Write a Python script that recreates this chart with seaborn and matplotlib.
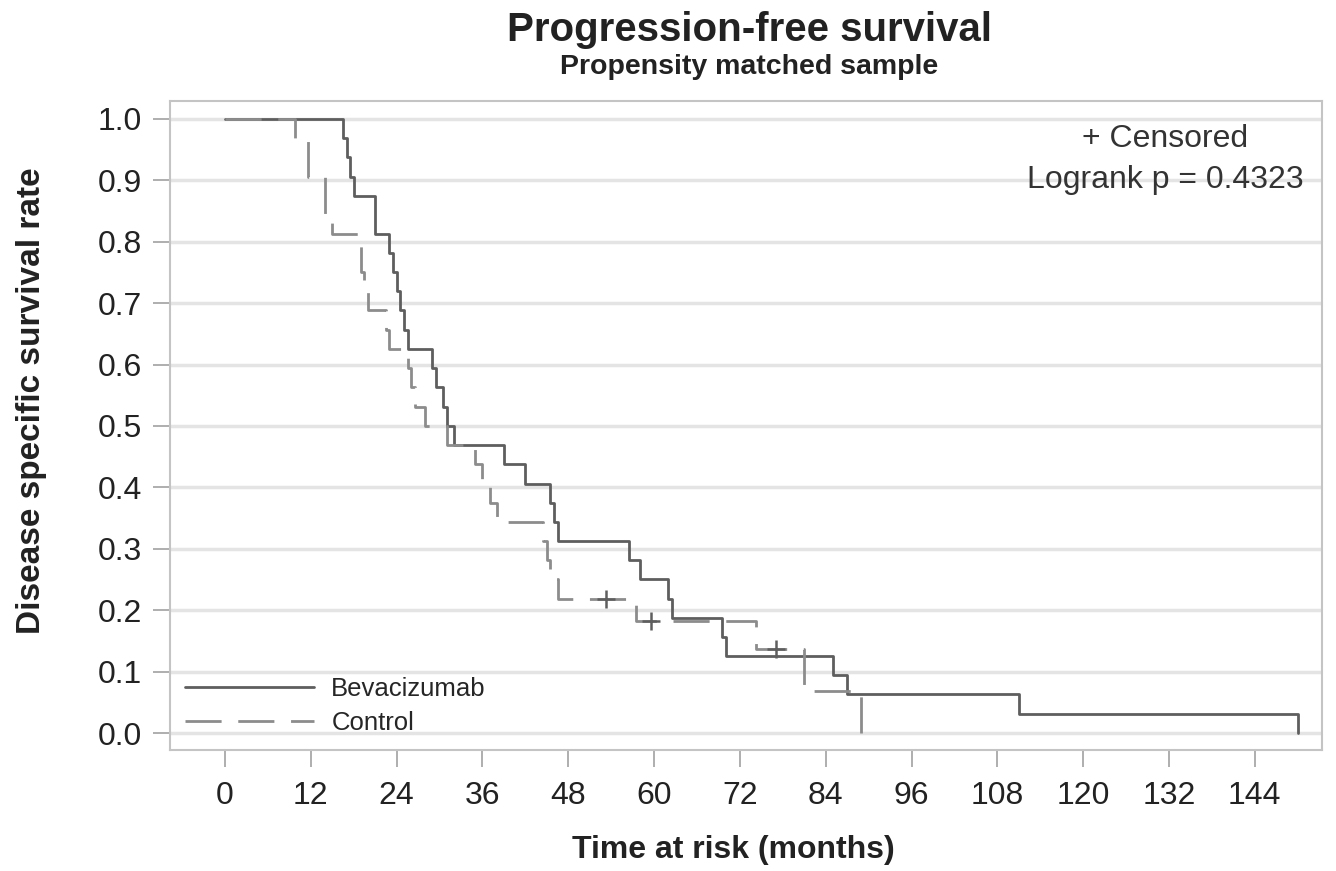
import matplotlib
matplotlib.use("Agg")
import matplotlib.pyplot as plt
import seaborn as sns
import pandas as pd

# ---- data ----
bev_time = [0, 16.5, 17, 17.5, 18, 21, 23, 23.5, 24, 24.5, 25, 25.6, 29, 29.5, 30.5, 31, 32,
            39, 42, 45.5, 46, 46.5, 56.5, 58, 62, 62.5, 69.5, 70, 85, 87, 111, 150]
bev_surv = [1.0, 0.969, 0.938, 0.906, 0.875, 0.813, 0.781, 0.75, 0.719, 0.688, 0.656, 0.625,
            0.594, 0.563, 0.531, 0.5, 0.469, 0.438, 0.406, 0.375, 0.344, 0.313, 0.281, 0.25,
            0.219, 0.188, 0.156, 0.125, 0.094, 0.063, 0.031, 0.0]

ctl_time = [0, 9.8, 11.6, 14, 15, 19, 19.5, 20, 22.5, 23, 25.6, 26, 26.5, 28, 31, 35, 36, 37,
            38, 44.5, 45, 45.5, 46.5, 57.5, 74.3, 81, 89]
ctl_surv = [1.0, 0.969, 0.906, 0.844, 0.813, 0.75, 0.719, 0.688, 0.656, 0.625, 0.594, 0.563,
            0.531, 0.5, 0.469, 0.438, 0.406, 0.375, 0.344, 0.313, 0.281, 0.25, 0.219, 0.182,
            0.137, 0.068, 0.0]

cens_time = [53.3, 59.6, 77]
cens_surv = [0.219, 0.182, 0.137]

groups = ["Bevacizumab", "Control"]
x_ticks = [0, 12, 24, 36, 48, 60, 72, 84, 96, 108, 120, 132, 144]
y_ticks = [0.0, 0.1, 0.2, 0.3, 0.4, 0.5, 0.6, 0.7, 0.8, 0.9, 1.0]

df = pd.concat([
    pd.DataFrame({"t": bev_time, "s": bev_surv, "group": groups[0]}),
    pd.DataFrame({"t": ctl_time, "s": ctl_surv, "group": groups[1]}),
], ignore_index=True)
cens = pd.DataFrame({"t": cens_time, "s": cens_surv})

sns.set_theme(style="white")
plt.rcParams["font.family"] = ["Liberation Sans", "DejaVu Sans"]

fig = plt.figure(figsize=(13.36, 8.71), dpi=100)
ax = fig.add_axes([0.1272, 0.1389, 0.8623, 0.7451])

palette = {"Bevacizumab": "#5e5e5e", "Control": "#8c8c8c"}
dashes = {"Bevacizumab": "", "Control": (13, 6)}
sns.lineplot(data=df, x="t", y="s", hue="group", style="group", palette=palette,
             dashes=dashes, drawstyle="steps-post", estimator=None, linewidth=2.0,
             ax=ax, zorder=3)
sns.scatterplot(data=cens, x="t", y="s", marker="+", s=180, color="#5e5e5e",
                linewidth=1.8, ax=ax, zorder=4, legend=False)

ax.set_xlim(-7.7, 153.4)
ax.set_ylim(-0.0277, 1.029)
ax.set_xticks(x_ticks)
ax.set_yticks(y_ticks)
ax.set_yticklabels([f"{v:.1f}" for v in y_ticks])
ax.tick_params(axis="both", which="both", labelsize=23, colors="#a8a8a8",
               labelcolor="#222222", length=12, width=1.3)
ax.tick_params(axis="x", pad=10, bottom=True)
ax.tick_params(axis="y", pad=8, left=True)

ax.grid(axis="y", color="#e4e4e4", linewidth=2.5, zorder=0)
ax.set_axisbelow(True)
for sp in ax.spines.values():
    sp.set_color("#c4c4c4")
    sp.set_linewidth(1.5)

ax.set_xlabel("Time at risk (months)", fontsize=23, fontweight="bold", color="#222222")
ax.xaxis.set_label_coords(0.489, -0.131)
ax.set_ylabel("Disease specific survival rate", fontsize=24, fontweight="bold",
              color="#222222")
ax.yaxis.set_label_coords(-0.107, 0.539)

handles, labels = ax.get_legend_handles_labels()
ax.legend(handles, labels, loc="lower left", bbox_to_anchor=(0.0, 0.0), frameon=False,
          fontsize=18.5, handlelength=5.0, handletextpad=0.68, labelspacing=0.38,
          borderaxespad=0.2)

ax.text(0.864, 0.929, "+ Censored", transform=ax.transAxes, ha="center", va="baseline",
        fontsize=23, color="#333333")
ax.text(0.864, 0.866, "Logrank p = 0.4323", transform=ax.transAxes, ha="center",
        va="baseline", fontsize=23, color="#333333")

fig.text(0.561, 0.953, "Progression-free survival", ha="center", va="baseline",
         fontsize=29, fontweight="bold", color="#222222")
fig.text(0.561, 0.915, "Propensity matched sample", ha="center", va="baseline",
         fontsize=20.5, fontweight="bold", color="#222222")

fig.savefig("out.png", dpi=100)
